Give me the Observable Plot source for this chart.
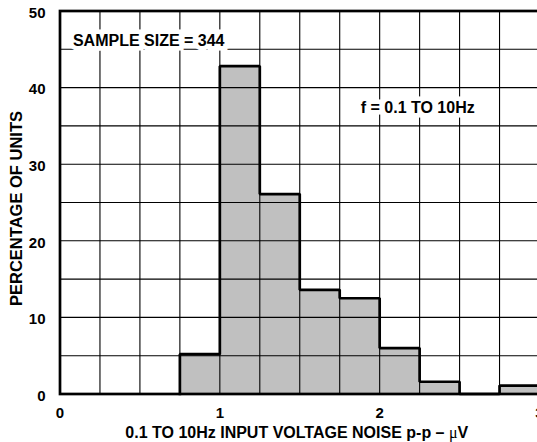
<!DOCTYPE html>
<html>
<head>
<meta charset="utf-8">
<script src="https://cdn.jsdelivr.net/npm/d3@7"></script>
<script src="https://cdn.jsdelivr.net/npm/@observablehq/plot@0.6"></script>
<style>
  html, body { margin: 0; padding: 0; background: white; overflow: hidden; }
</style>
</head>
<body>
<div id="chart"></div>
<script>
// ---- data ----
const binStart = [0.75, 1.0, 1.25, 1.5, 1.75, 2.0, 2.25, 2.5, 2.75];
const binEnd   = [1.0, 1.25, 1.5, 1.75, 2.0, 2.25, 2.5, 2.75, 3.0];
const percent  = [5.2, 42.8, 26.1, 13.6, 12.5, 6.0, 1.6, 0, 1.1];

const xTicks = [0, 1, 2, 3];
const yTicks = [0, 10, 20, 30, 40, 50];
const xGrid = [0.25, 0.5, 0.75, 1.0, 1.25, 1.5, 1.75, 2.0, 2.25, 2.5, 2.75];
const yGrid = [5, 10, 15, 20, 25, 30, 35, 40, 45];

const noteText = ["SAMPLE SIZE = 344", "f = 0.1 TO 10Hz"];
const noteX = [0.555, 2.238];
const noteY = [46.1, 37.4];

const xLabel = "0.1 TO 10Hz INPUT VOLTAGE NOISE p-p – μV";
const yLabel = "PERCENTAGE OF UNITS";

// ---- tables built from the arrays ----
const bars = binStart.map((x1, i) => ({x1, x2: binEnd[i], y: percent[i]}));
const last = percent.length - 1;
const outline = [{x: binStart[0], y: 0}]
  .concat(binStart.map((x, i) => ({x, y: percent[i]})))
  .concat([{x: binEnd[last], y: percent[last]}]);
const notes = noteText.map((t, i) => ({t, x: noteX[i], y: noteY[i]}));

const font = "'Liberation Sans', Arial, Helvetica, sans-serif";

const chart = Plot.plot({
  width: 539,
  height: 442,
  marginLeft: 59.5,
  marginRight: 0,
  marginTop: 10.5,
  marginBottom: 48.5,
  style: {fontFamily: font, fontWeight: "bold", maxWidth: "none", background: "white", color: "black", overflow: "visible"},
  x: {domain: [0, 3]},
  y: {domain: [0, 50]},
  marks: [
    Plot.rectY(bars, {x1: "x1", x2: "x2", y: "y", fill: "#c0c0c0"}),
    Plot.ruleX(xGrid, {stroke: "black", strokeWidth: 1.1}),
    Plot.ruleY(yGrid, {stroke: "black", strokeWidth: 1.1}),
    Plot.line(outline, {x: "x", y: "y", curve: "step-after", stroke: "black", strokeWidth: 2.7, strokeLinejoin: "miter", strokeLinecap: "square"}),
    Plot.frame({stroke: "black", strokeWidth: 2.7}),
    Plot.text(notes, {x: "x", y: "y", text: "t", fontSize: 16, fontWeight: "bold", fill: "black",
      stroke: "white", strokeWidth: 9, strokeLinejoin: "miter", paintOrder: "stroke"}),
    Plot.axisY(yTicks, {tickSize: 0, tickPadding: 14.5, fontSize: 15, fontWeight: "bold", dy: 2, label: null}),
    Plot.axisX(xTicks, {tickSize: 0, tickPadding: 13, fontSize: 15, fontWeight: "bold", label: null, tickFormat: d3.format("d")}),
    Plot.text([xLabel], {frameAnchor: "bottom", dy: 38.5, dx: -3, textAnchor: "middle", lineAnchor: "middle", fontSize: 16, fontWeight: "bold", fill: "black"}),
    Plot.text([yLabel], {frameAnchor: "left", dx: -43.5, dy: 6, rotate: -90, textAnchor: "middle", lineAnchor: "middle", fontSize: 16.5, fontWeight: "bold", fill: "black"})
  ]
});

document.getElementById("chart").appendChild(chart);

// render the micro sign in a plain serif face, as in the original
chart.querySelectorAll("text").forEach(t => {
  if (t.textContent === xLabel && !t.querySelector("tspan")) {
    const idx = xLabel.indexOf("μ");
    const ns = "http://www.w3.org/2000/svg";
    t.textContent = "";
    const a = document.createElementNS(ns, "tspan");
    a.textContent = xLabel.slice(0, idx);
    const m = document.createElementNS(ns, "tspan");
    m.textContent = "μ";
    m.setAttribute("font-family", "'Liberation Serif', 'Times New Roman', serif");
    m.setAttribute("font-weight", "normal");
    const b = document.createElementNS(ns, "tspan");
    b.textContent = xLabel.slice(idx + 1);
    t.append(a, m, b);
  }
});
</script>
</body>
</html>
